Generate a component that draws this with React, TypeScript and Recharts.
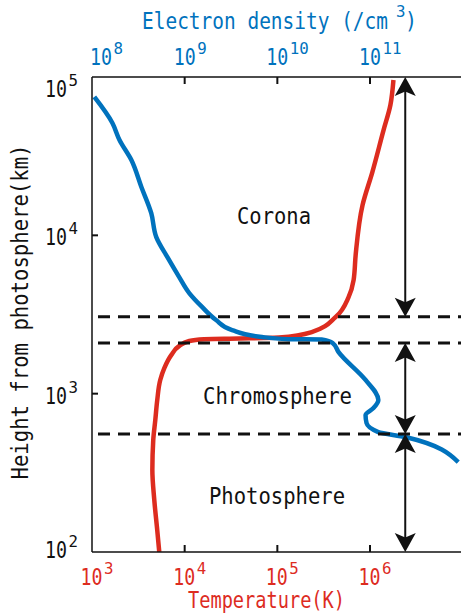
import React from 'react';
import { LineChart, Line, XAxis, YAxis, ReferenceLine } from 'recharts';

// temperature profile: height (km) -> temperature (K)
const tempHeights = [100, 137, 213, 329, 509, 681, 912, 1220, 1450, 1750, 2000, 2150, 2210, 2230, 2260, 2450, 3050, 4070, 5220, 7520, 15500, 25100, 46200, 66500, 95700];
const temperatures = [5320, 5060, 4700, 4480, 4580, 4820, 5060, 5450, 6030, 7160, 8730, 11200, 16200, 38600, 104000, 235000, 426000, 587000, 665000, 700000, 830000, 1060000, 1400000, 1660000, 1790000];

// electron density profile: height (km) -> density (/cm^3)
const densityHeights = [74800, 51200, 40000, 29900, 20200, 13800, 9750, 7300, 5450, 4320, 3530, 2920, 2520, 2280, 2210, 2200, 2090, 1830, 1220, 912, 811, 733, 652, 572, 532, 370];
const densities = [1.06e8, 1.66e8, 1.98e8, 2.66e8, 3.41e8, 4.36e8, 4.94e8, 6.49e8, 8.73e8, 1.12e9, 1.54e9, 2.18e9, 3.25e9, 6.81e9, 1.33e10, 3.0e10, 3.95e10, 4.58e10, 8.95e10, 1.23e11, 1.09e11, 8.95e10, 9.17e10, 1.23e11, 2.41e11, 8.95e11];

const tempTicks = [1e3, 1e4, 1e5, 1e6];
const densityTicks = [1e8, 1e9, 1e10, 1e11];
const heightTicks = [1e2, 1e3, 1e4, 1e5];

// layer boundaries (km) and the extent of each layer
const layerBounds = [3060, 2090, 556];
const layerNames = ['Corona', 'Chromosphere', 'Photosphere'];
const layerSpans = [[1e5, 3060], [2090, 556], [556, 100]];
const arrowTemp = 2.4e6;

const T_MAX = 9.59e6;
const NE_MAX = 9.59e11;

const RED = '#dd2c1f';
const BLUE = '#0072bd';
const INK = '#111';
const MONO = '"DejaVu Sans Mono", "Liberation Mono", monospace';

const tempData = tempHeights.map((h, i) => ({ h, t: temperatures[i] }));
const densityData = densityHeights.map((h, i) => ({ h, ne: densities[i] }));

const PowLabel = ({ x, y, value, color }: { x: number; y: number; value: number; color: string }) => {
  const e = String(Math.round(Math.log10(value)));
  return (
    <g fill={color} fontFamily={MONO}>
      <text x={x} y={y} fontSize={23.3} textLength={22} lengthAdjust="spacingAndGlyphs">10</text>
      <text x={x + 23.5} y={y - 11} fontSize={16.5} textLength={9.5 * e.length} lengthAdjust="spacingAndGlyphs">{e}</text>
    </g>
  );
};

const BottomTick = (props: any) => {
  const { x, y, payload } = props;
  return (
    <g>
      {payload.value !== 1e3 && <line x1={x} x2={x} y1={y} y2={y - 7} stroke={INK} strokeWidth={2} />}
      <PowLabel x={x - 11.5} y={y + 33} value={payload.value} color={RED} />
    </g>
  );
};

const TopTick = (props: any) => {
  const { x, y, payload, index } = props;
  return (
    <g>
      {payload.value !== 1e8 && <line x1={x} x2={x} y1={y} y2={y + 7} stroke={INK} strokeWidth={2} />}
      <PowLabel x={index === 0 ? x - 2 : x - 11} y={y - 12} value={payload.value} color={BLUE} />
    </g>
  );
};

const LeftTick = (props: any) => {
  const { x, y, payload } = props;
  const v = payload.value;
  const dy = v === 1e5 ? 20 : v === 1e2 ? 6 : 10;
  return (
    <g>
      {v !== 1e5 && v !== 1e2 && <line x1={x} x2={x + 6} y1={y} y2={y} stroke={INK} strokeWidth={2} />}
      <PowLabel x={x - 47} y={y + dy} value={v} color={INK} />
    </g>
  );
};

const head = (x: number, y: number, dir: number) =>
  `M${x},${y} L${x + 10.5},${y + dir * 19} L${x},${y + dir * 14.5} L${x - 10.5},${y + dir * 19} Z`;

// double-headed arrow marking the extent of a layer
const ArrowShape = (props: any) => {
  const { x1, y1, x2, y2 } = props;
  const top = Math.min(y1, y2);
  const bottom = Math.max(y1, y2);
  const x = x1 ?? x2;
  return (
    <g>
      <line x1={x} x2={x} y1={top + 10} y2={bottom - 10} stroke={INK} strokeWidth={2} />
      <path d={head(x, top, 1)} fill={INK} />
      <path d={head(x, bottom, -1)} fill={INK} />
    </g>
  );
};

const axisLine = { stroke: INK, strokeWidth: 1.5 };

export default function App() {
  return (
    <div style={{ position: 'absolute', left: 0, top: 0, background: '#fff' }}>
      <LineChart width={461} height={613} layout="vertical" margin={{ top: 37, right: 0, bottom: 21, left: 42 }}>
        <XAxis xAxisId="t" type="number" scale="log" domain={[1e3, T_MAX]} allowDataOverflow ticks={tempTicks}
          interval={0} orientation="bottom" height={40} tickLine={false} tickSize={0} tickMargin={0}
          axisLine={axisLine} tick={<BottomTick />} />
        <XAxis xAxisId="ne" type="number" scale="log" domain={[1e8, NE_MAX]} allowDataOverflow ticks={densityTicks}
          interval={0} orientation="top" height={40} tickLine={false} tickSize={0} tickMargin={0}
          axisLine={axisLine} tick={<TopTick />} />
        <YAxis yAxisId="h" type="number" dataKey="h" scale="log" domain={[1e2, 1e5]} allowDataOverflow reversed
          ticks={heightTicks} interval={0} width={50} tickLine={false} tickSize={0} tickMargin={0}
          axisLine={axisLine} tick={<LeftTick />} />

        <Line data={tempData} xAxisId="t" yAxisId="h" dataKey="t" type="monotone" stroke={RED} strokeWidth={4.5}
          dot={false} activeDot={false} isAnimationActive={false} />
        <Line data={densityData} xAxisId="ne" yAxisId="h" dataKey="ne" type="monotone" stroke={BLUE} strokeWidth={4.5}
          dot={false} activeDot={false} isAnimationActive={false} />

        {layerBounds.map((b) => (
          <ReferenceLine key={b} xAxisId="t" yAxisId="h" y={b} stroke={INK} strokeWidth={3}
            strokeDasharray="12 8" strokeDashoffset={14} />
        ))}
        {layerSpans.map(([a, b]) => (
          <ReferenceLine key={a} xAxisId="t" yAxisId="h" ifOverflow="visible"
            segment={[{ x: arrowTemp, y: a }, { x: arrowTemp, y: b }]} shape={ArrowShape} />
        ))}

        <g fill={INK} fontFamily={MONO} fontSize={23.3}>
          <text x={237} y={224} textLength={74} lengthAdjust="spacingAndGlyphs">{layerNames[0]}</text>
          <text x={203} y={404} textLength={149} lengthAdjust="spacingAndGlyphs">{layerNames[1]}</text>
          <text x={209} y={504} textLength={136} lengthAdjust="spacingAndGlyphs">{layerNames[2]}</text>
        </g>

        <g fontFamily={MONO} fontSize={23.3}>
          <text x={142} y={29} fill={BLUE} textLength={246} lengthAdjust="spacingAndGlyphs">Electron density (/cm</text>
          <text x={396} y={17} fill={BLUE} fontSize={16.5} textLength={9.5} lengthAdjust="spacingAndGlyphs">3</text>
          <text x={405} y={29} fill={BLUE} textLength={12} lengthAdjust="spacingAndGlyphs">)</text>
          <text x={188} y={608} fill={RED} fontSize={22.5} textLength={157} lengthAdjust="spacingAndGlyphs">Temperature(K)</text>
          <text x={28} y={312} fill={INK} textAnchor="middle" transform="rotate(-90 28 312)" textLength={335}
            lengthAdjust="spacingAndGlyphs">Height from photosphere(km)</text>
        </g>
      </LineChart>
    </div>
  );
}
